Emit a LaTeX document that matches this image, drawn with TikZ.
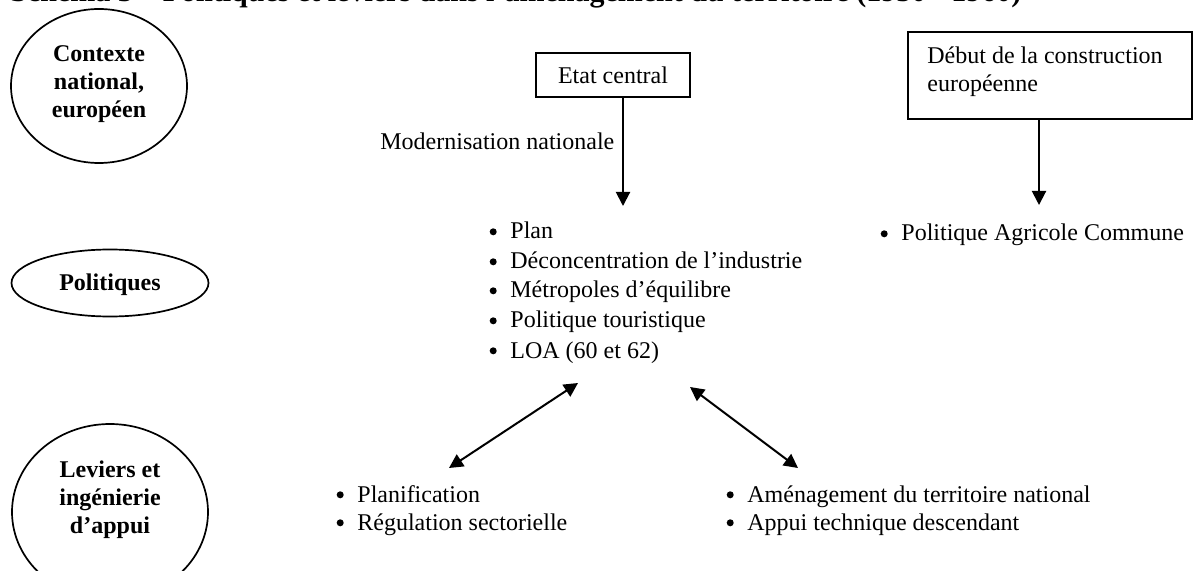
\documentclass[tikz,border=0pt]{standalone}
\usepackage{fontspec}
\setmainfont{Liberation Serif}
\usetikzlibrary{arrows.meta,shapes.geometric}
\newcommand{\mybul}{\makebox[10.5pt][l]{\tikz[baseline=0pt]{\path (0pt,0pt); \fill (1.9pt,3.6pt) circle (1.75pt);}}}
\begin{document}
\begin{tikzpicture}[x=0.5pt,y=-0.5pt,
  txt/.style={inner sep=0pt,anchor=base west,font=\fontsize{12}{14}\selectfont},
  lbl/.style={inner sep=0pt,align=center,font=\fontsize{12}{14}\selectfont\bfseries},
  oval/.style={draw,ellipse,line width=0.85pt,inner sep=0pt},
  boxnode/.style={draw,rectangle,line width=0.75pt,inner sep=0pt},
  arr/.style={line width=1pt,-{Triangle[length=7pt,width=7pt]}},
  darr/.style={line width=1pt,{Triangle[length=7pt,width=7pt]}-{Triangle[length=7pt,width=7pt]}}]
\useasboundingbox (0,0) rectangle (1197,571);

% title (cut by the top edge)
\node[anchor=base west,inner sep=0pt,font=\fontsize{15}{18}\selectfont\bfseries] (title) at (10,2)
  {Schéma 3 – Politiques et leviers dans l’aménagement du territoire (1950 - 1960)};

% left ellipses
\node[oval,minimum width=88pt,minimum height=77pt] (ctx) at (99,86) {};
\node[lbl] (ctxt) at (99,84.5) {Contexte\\national,\\européen};
\node[oval,minimum width=98.5pt,minimum height=33.5pt] (pol) at (110,283) {};
\node[lbl] (polt) at (110,284.5) {Politiques};
\node[oval,minimum width=98pt,minimum height=88pt] (lev) at (110,512) {};
\node[lbl] (levt) at (110,499.5) {Leviers et\\ingénierie\\d’appui};

% boxes
\node[boxnode,minimum width=77pt,minimum height=22pt,font=\fontsize{12}{14}\selectfont] (etat) at (613,75) {Etat central};
\node[boxnode,minimum width=142pt,minimum height=43.5pt] (deb) at (1050,75.5) {};
\node[txt] (debt1) at (927,64) {Début de la construction};
\node[txt] (debt2) at (927,92) {européenne};

% labels
\node[txt] (mod) at (380,150) {Modernisation nationale};

% middle list
\node[txt] (l1) at (489,239) {\mybul Plan};
\node[txt] (l2) at (489,269) {\mybul Déconcentration de l’industrie};
\node[txt] (l3) at (489,298) {\mybul Métropoles d’équilibre};
\node[txt] (l4) at (489,328) {\mybul Politique touristique};
\node[txt] (l5) at (489,358) {\mybul LOA (60 et 62)};

\node[txt] (pac) at (880,241) {\mybul Politique Agricole Commune};

% bottom lists
\node[txt] (b1) at (336,502) {\mybul Planification};
\node[txt] (b2) at (336,530) {\mybul Régulation sectorielle};
\node[txt] (c1) at (726,502) {\mybul Aménagement du territoire national};
\node[txt] (c2) at (726,530) {\mybul Appui technique descendant};

% connectors
\coordinate (a1) at (623,206);
\draw[arr] (etat.south -| a1) -- (a1);
\coordinate (a2) at (1039,205);
\draw[arr] (deb.south -| a2) -- (a2);
\coordinate (d1) at (578,383);
\coordinate (d2) at (449,468);
\draw[darr] (d1) -- (d2);
\coordinate (d3) at (690,387);
\coordinate (d4) at (798,468);
\draw[darr] (d3) -- (d4);
\end{tikzpicture}
\end{document}
